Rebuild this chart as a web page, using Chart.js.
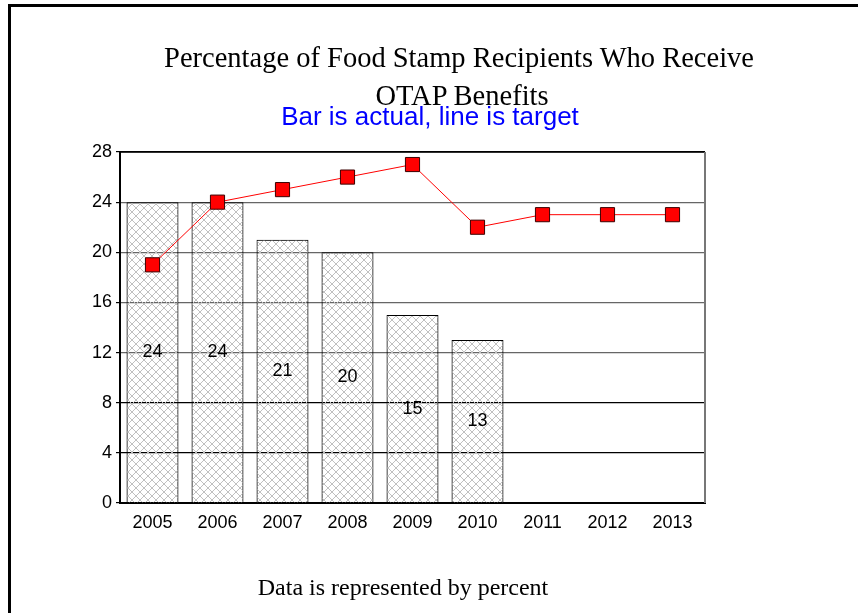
<!DOCTYPE html>
<html lang="en">
<head>
    <meta charset="UTF-8">
    <title>Percentage of Food Stamp Recipients Who Receive OTAP Benefits</title>
    <script src="https://cdn.jsdelivr.net/npm/chart.js"></script>
    <style>
        body {
            margin: 0;
            padding: 0;
            width: 858px;
            height: 613px;
            overflow: hidden;
            background: white;
            position: relative;
        }
        .frame {
            position: absolute;
            left: 8px;
            top: 4px;
            width: 900px;
            height: 700px;
            border-top: 3px solid #000;
            border-left: 3px solid #000;
        }
        .txt {
            position: absolute;
            white-space: nowrap;
            transform: translateX(-50%);
        }
        .title {
            font-family: "Liberation Serif", "Times New Roman", serif;
            font-size: 28.5px;
            line-height: 28px;
            color: #000;
        }
        .subtitle {
            font-family: "Liberation Sans", Arial, sans-serif;
            font-size: 26px;
            line-height: 26px;
            color: #0000ff;
        }
        .footer {
            font-family: "Liberation Serif", "Times New Roman", serif;
            font-size: 24px;
            line-height: 24px;
            color: #000;
        }
        .chart-container {
            position: absolute;
            left: 0;
            top: 0;
            width: 858px;
            height: 613px;
        }
    </style>
</head>
<body>
    <div class="frame"></div>
    <div class="chart-container">
        <canvas id="comboChart"></canvas>
    </div>
    <div class="txt title" style="left: 459px; top: 44px;">Percentage of Food Stamp Recipients Who Receive</div>
    <div class="txt title" style="left: 462px; top: 82px;">OTAP Benefits</div>
    <div class="txt subtitle" style="left: 430px; top: 103px;">Bar is actual, line is target</div>
    <div class="txt footer" style="left: 403px; top: 575px;">Data is represented by percent</div>

    <script>
        // chart data
        const years = ['2005', '2006', '2007', '2008', '2009', '2010', '2011', '2012', '2013'];
        const actual = [24, 24, 21, 20, 15, 13, null, null, null];
        const target = [19, 24, 25, 26, 27, 22, 23, 23, 23];
        const yTicks = [0, 4, 8, 12, 16, 20, 24, 28];

        // crosshatch fill for the bars
        function makeHatch() {
            const c = document.createElement('canvas');
            c.width = 8;
            c.height = 8;
            const g = c.getContext('2d');
            g.strokeStyle = '#c0c0c0';
            g.lineWidth = 1;
            g.beginPath();
            g.moveTo(0, 0);
            g.lineTo(8, 8);
            g.moveTo(8, 0);
            g.lineTo(0, 8);
            g.stroke();
            return g.createPattern(c, 'repeat');
        }

        // plot frame (top and right edges)
        const frameBox = {
            id: 'frameBox',
            beforeDatasetsDraw(chart) {
                const {ctx, chartArea: a} = chart;
                ctx.save();
                ctx.strokeStyle = '#000';
                ctx.lineWidth = 1.5;
                ctx.beginPath();
                ctx.moveTo(a.left, a.top);
                ctx.lineTo(a.right, a.top);
                ctx.stroke();
                ctx.strokeStyle = '#777';
                ctx.lineWidth = 2;
                ctx.beginPath();
                ctx.moveTo(a.right, a.top);
                ctx.lineTo(a.right, a.bottom);
                ctx.stroke();
                ctx.restore();
            }
        };

        // value labels in the middle of each bar
        const barLabels = {
            id: 'barLabels',
            afterDatasetsDraw(chart) {
                const ctx = chart.ctx;
                const meta = chart.getDatasetMeta(1);
                ctx.save();
                ctx.font = '18px "Liberation Sans", Arial, sans-serif';
                ctx.fillStyle = '#000';
                ctx.textAlign = 'center';
                ctx.textBaseline = 'middle';
                meta.data.forEach((bar, i) => {
                    if (actual[i] == null) return;
                    ctx.fillText(String(actual[i]), bar.x, (bar.y + bar.base) / 2);
                });
                ctx.restore();
            }
        };

        const ctx = document.getElementById('comboChart').getContext('2d');

        new Chart(ctx, {
            data: {
                labels: years,
                datasets: [
                    {
                        type: 'line',
                        label: 'Target',
                        data: target,
                        borderColor: '#ff0000',
                        borderWidth: 1,
                        backgroundColor: '#ff0000',
                        pointStyle: 'rect',
                        pointRadius: 10,
                        pointBorderColor: '#3a0000',
                        pointBorderWidth: 1,
                        pointBackgroundColor: '#ff0000',
                        tension: 0,
                        order: 0
                    },
                    {
                        type: 'bar',
                        label: 'Actual',
                        data: actual,
                        backgroundColor: makeHatch(),
                        borderColor: '#000',
                        borderWidth: 1,
                        categoryPercentage: 1,
                        barPercentage: 0.8,
                        order: 1
                    }
                ]
            },
            options: {
                responsive: true,
                maintainAspectRatio: false,
                animation: false,
                layout: {
                    padding: { left: 0, right: 153, top: 152, bottom: 80 }
                },
                plugins: {
                    legend: { display: false },
                    tooltip: { enabled: false }
                },
                scales: {
                    x: {
                        grid: { display: false, drawTicks: false },
                        border: { display: true, color: '#000', width: 2 },
                        ticks: {
                            color: '#000',
                            padding: 9,
                            font: { family: '"Liberation Sans", Arial, sans-serif', size: 18 }
                        },
                        afterFit(scale) { scale.height = 30; }
                    },
                    y: {
                        min: 0,
                        max: 28,
                        afterBuildTicks(scale) {
                            scale.ticks = yTicks.map(v => ({ value: v }));
                        },
                        grid: {
                            color(c) {
                                const v = c.tick.value;
                                return (v === 4 || v === 8 || v === 28) ? '#000' : '#666';
                            },
                            lineWidth: 1.2,
                            tickLength: 4,
                            tickColor: '#000'
                        },
                        border: { display: true, color: '#000', width: 2 },
                        ticks: {
                            color: '#000',
                            padding: 4,
                            font: { family: '"Liberation Sans", Arial, sans-serif', size: 18 }
                        },
                        afterFit(scale) { scale.width = 120; }
                    }
                }
            },
            plugins: [frameBox, barLabels]
        });
    </script>
</body>
</html>
